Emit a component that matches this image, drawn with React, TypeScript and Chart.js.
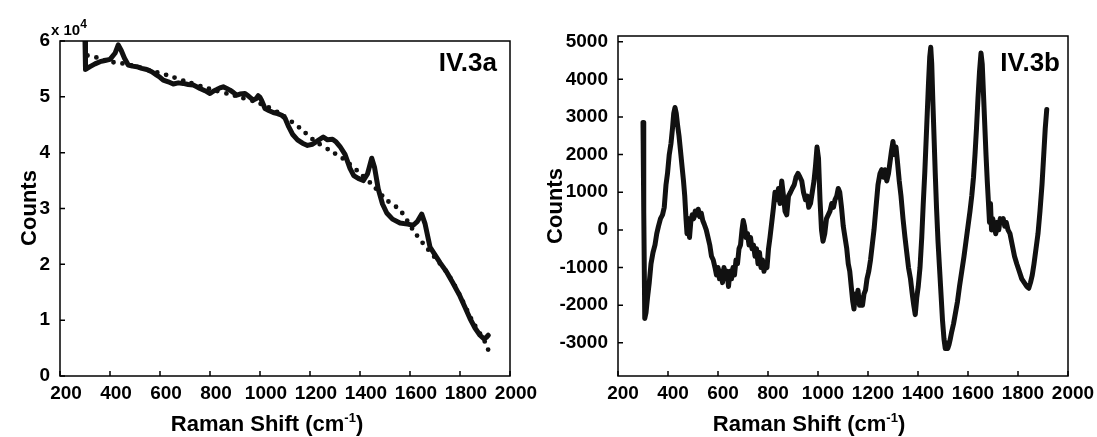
import React, { useEffect, useRef } from "react";
import { Chart, registerables } from "chart.js";
Chart.register(...registerables);

const FONT = "'Liberation Sans', Arial, Helvetica, sans-serif";

// ---------- Panel IV.3a ----------
const ramanA = [300, 302, 320, 340, 360, 380, 400, 420, 433, 445, 458, 473, 490, 507, 527, 547, 567, 587, 600, 613, 633, 653, 673, 693, 713, 733, 747, 760, 780, 800, 813, 827, 840, 853, 867, 880, 893, 907, 920, 940, 955, 973, 985, 993, 1000, 1007, 1020, 1037, 1053, 1070, 1087, 1100, 1113, 1130, 1150, 1170, 1190, 1210, 1230, 1253, 1270, 1290, 1305, 1320, 1340, 1360, 1375, 1393, 1413, 1430, 1447, 1458, 1473, 1490, 1507, 1530, 1560, 1590, 1613, 1630, 1647, 1660, 1680, 1700, 1720, 1747, 1770, 1800, 1820, 1840, 1860, 1880, 1895, 1905, 1913];
const countsA = [60000, 54900, 55400, 55900, 56300, 56500, 56700, 57800, 59300, 58300, 56900, 55700, 55500, 55400, 55100, 54900, 54500, 53900, 53500, 53000, 52700, 52300, 52500, 52400, 52200, 52100, 51800, 51500, 51100, 50600, 51000, 51300, 51600, 51800, 51500, 51200, 50800, 50300, 50500, 50600, 50100, 49400, 49700, 50200, 49900, 49300, 47900, 47500, 47200, 47000, 46700, 46200, 44800, 43300, 42300, 41700, 41300, 41500, 42100, 42800, 42300, 42400, 41900, 41100, 39700, 37200, 35900, 35400, 35000, 36200, 39000, 37400, 33500, 30800, 29200, 28100, 27400, 27200, 27000, 27700, 29000, 27300, 23100, 21700, 20300, 18600, 16800, 14300, 12300, 10300, 8600, 7300, 6700, 6900, 7300];

const fitRamanA = [310, 350, 400, 447, 500, 560, 627, 700, 800, 900, 1000, 1080, 1160, 1213, 1287, 1330, 1393, 1450, 1507, 1560, 1613, 1653, 1700, 1750, 1800, 1850, 1880, 1907, 1916];
const fitCountsA = [57400, 57000, 56300, 56000, 55500, 54700, 53900, 52800, 51400, 50200, 48800, 47000, 44400, 42300, 40200, 39000, 36600, 34200, 31500, 29700, 26100, 23700, 21200, 18400, 14400, 9800, 7600, 5500, 4100];

// ---------- Panel IV.3b ----------
const ramanB = [300, 303, 307, 312, 318, 325, 332, 340, 348, 355, 362, 370, 378, 385, 392, 398, 405, 412, 418, 423, 428, 433, 438, 444, 450, 456, 462, 467, 472, 476, 481, 486, 491, 497, 503, 509, 515, 521, 527, 533, 539, 545, 553, 560, 567, 574, 581, 588, 594, 600, 606, 612, 618, 624, 630, 636, 642, 648, 654, 660, 666, 672, 678, 684, 690, 696, 701, 706, 712, 718, 724, 730, 736, 742, 748, 754, 760, 766, 772, 778, 784, 790, 796, 802, 808, 815, 822, 828, 835, 842, 848, 855, 862, 868, 875, 882, 890, 897, 905, 912, 920, 928, 935, 942, 950, 957, 963, 970, 977, 984, 990, 996, 1002, 1008, 1014, 1020, 1027, 1034, 1041, 1048, 1055, 1062, 1068, 1075, 1081, 1087, 1094, 1101, 1108, 1115, 1121, 1127, 1133, 1139, 1144, 1149, 1154, 1160, 1166, 1172, 1178, 1184, 1190, 1196, 1203, 1210, 1217, 1224, 1232, 1240, 1248, 1255, 1262, 1268, 1275, 1282, 1288, 1294, 1300, 1306, 1312, 1318, 1325, 1332, 1340, 1348, 1355, 1362, 1370, 1377, 1383, 1389, 1395, 1401, 1408, 1415, 1421, 1427, 1432, 1437, 1442, 1447, 1451, 1455, 1459, 1464, 1469, 1474, 1480, 1486, 1492, 1498, 1504, 1509, 1514, 1519, 1524, 1529, 1535, 1542, 1550, 1558, 1566, 1575, 1584, 1592, 1600, 1608, 1615, 1622, 1628, 1634, 1640, 1646, 1652, 1657, 1662, 1667, 1672, 1677, 1682, 1686, 1690, 1694, 1699, 1705, 1711, 1717, 1723, 1729, 1735, 1741, 1747, 1753, 1760, 1768, 1777, 1786, 1795, 1805, 1815, 1825, 1835, 1843, 1850, 1857, 1864, 1872, 1880, 1888, 1896, 1903, 1909, 1915];
const countsB = [2850, 500, -2350, -2200, -1800, -1400, -900, -600, -400, -100, 100, 300, 400, 600, 1200, 1500, 2000, 2300, 2700, 3100, 3250, 3100, 2800, 2500, 2100, 1700, 1300, 900, 300, -100, 300, -200, 200, 400, 300, 500, 400, 550, 350, 450, 250, 150, 0, -200, -400, -700, -800, -1000, -1200, -1000, -1300, -1100, -1400, -1000, -1300, -1100, -1500, -1100, -1300, -1000, -1200, -800, -900, -500, -400, 0, 250, 100, -200, -100, -400, -200, -500, -400, -700, -500, -900, -600, -1000, -800, -1100, -900, -1000, -500, -200, 200, 600, 1000, 800, 1100, 700, 1300, 900, 500, 400, 900, 1000, 1100, 1200, 1400, 1500, 1400, 1300, 1000, 800, 900, 600, 700, 1000, 1300, 1700, 2200, 1900, 800, 0, -300, -100, 300, 400, 500, 700, 600, 800, 900, 1100, 1000, 600, 100, -200, -500, -900, -1100, -1500, -1900, -2100, -1700, -1900, -1600, -2000, -1800, -2000, -1700, -1600, -1300, -1100, -800, -400, 0, 600, 1200, 1500, 1600, 1400, 1600, 1300, 1500, 1800, 2100, 2350, 2000, 2200, 1800, 1300, 900, 300, -200, -600, -1000, -1300, -1700, -2000, -2250, -1800, -1500, -1000, -200, 700, 1500, 2300, 3100, 3900, 4600, 4850, 4400, 3500, 2500, 1500, 600, -300, -1000, -1700, -2400, -2900, -3150, -3000, -3150, -3050, -2900, -2700, -2500, -2200, -1900, -1500, -1100, -700, -300, 100, 500, 900, 1400, 2000, 2700, 3500, 4200, 4700, 4400, 3600, 2800, 2000, 1300, 700, 200, 700, 0, 300, 100, -100, 200, 0, 300, 200, 300, 100, 200, 0, -100, -400, -700, -900, -1100, -1300, -1400, -1500, -1550, -1400, -1200, -900, -500, -100, 500, 1200, 2000, 2700, 3200];

// ---------- Axes ----------
const xTicks = [200, 400, 600, 800, 1000, 1200, 1400, 1600, 1800, 2000];
const yTicksA = [0, 1, 2, 3, 4, 5, 6]; // x 10^4
const yTicksB = [-3000, -2000, -1000, 0, 1000, 2000, 3000, 4000, 5000];

type Decor = {
  countsX: number;
  countsY: number;
  titleX: number;
  titleY: number;
  label: string;
  labelRight: number;
  labelY: number;
  exp?: boolean;
};

function drawRich(ctx: CanvasRenderingContext2D, parts: { t: string; s: number; dy: number }[], cx: number, y: number) {
  let total = 0;
  for (const p of parts) {
    ctx.font = `bold ${p.s}px ${FONT}`;
    total += ctx.measureText(p.t).width;
  }
  let x = cx - total / 2;
  ctx.textAlign = "left";
  ctx.textBaseline = "alphabetic";
  for (const p of parts) {
    ctx.font = `bold ${p.s}px ${FONT}`;
    ctx.fillText(p.t, x, y + p.dy);
    x += ctx.measureText(p.t).width;
  }
}

function makeDecor(d: Decor) {
  return {
    id: "decor",
    afterDraw(chart: any) {
      const { ctx, chartArea: a, scales } = chart;
      ctx.save();
      ctx.strokeStyle = "#000";
      ctx.lineWidth = 1.5;
      ctx.strokeRect(a.left, a.top, a.right - a.left, a.bottom - a.top);
      ctx.beginPath();
      scales.x.ticks.forEach((t: any) => {
        const px = scales.x.getPixelForValue(t.value);
        ctx.moveTo(px, a.bottom);
        ctx.lineTo(px, a.bottom - 5);
      });
      scales.y.ticks.forEach((t: any) => {
        const py = scales.y.getPixelForValue(t.value);
        ctx.moveTo(a.left, py);
        ctx.lineTo(a.left + 5, py);
      });
      ctx.stroke();

      ctx.fillStyle = "#000";
      ctx.save();
      ctx.translate(d.countsX, d.countsY);
      ctx.rotate(-Math.PI / 2);
      ctx.font = `bold 22px ${FONT}`;
      ctx.textAlign = "center";
      ctx.textBaseline = "alphabetic";
      ctx.fillText("Counts", 0, 0);
      ctx.restore();

      drawRich(
        ctx,
        [
          { t: "Raman Shift (cm", s: 22, dy: 0 },
          { t: "-1", s: 13, dy: -9 },
          { t: ")", s: 22, dy: 0 },
        ],
        d.titleX,
        d.titleY
      );

      ctx.font = `bold 26px ${FONT}`;
      ctx.textAlign = "right";
      ctx.textBaseline = "alphabetic";
      ctx.fillText(d.label, d.labelRight, d.labelY);

      if (d.exp) {
        ctx.textAlign = "left";
        ctx.font = `bold 15px ${FONT}`;
        ctx.fillText("x 10", 51, 35);
        const w = ctx.measureText("x 10").width;
        ctx.font = `bold 12px ${FONT}`;
        ctx.fillText("4", 51 + w, 28);
      }
      ctx.restore();
    },
  };
}

function buildConfig(
  xs: number[],
  ys: number[],
  fitX: number[] | null,
  fitY: number[] | null,
  yMin: number,
  yMax: number,
  yTickValues: number[],
  yLabel: (v: number) => string,
  axisWidth: number,
  top: number,
  right: number,
  labelOffset: number,
  decor: Decor
): any {
  const datasets: any[] = [
    {
      data: xs.map((x, i) => ({ x, y: ys[i] })),
      borderColor: "#111",
      borderWidth: 5,
      pointRadius: 0,
      tension: 0,
      borderJoinStyle: "round",
      borderCapStyle: "round",
      fill: false,
    },
  ];
  if (fitX && fitY) {
    datasets.push({
      data: fitX.map((x, i) => ({ x, y: fitY[i] })),
      borderColor: "#111",
      borderWidth: 4.8,
      borderDash: [0, 9],
      borderCapStyle: "round",
      pointRadius: 0,
      tension: 0.3,
      fill: false,
    });
  }
  const tickFont = { family: FONT, size: 19, weight: "bold" };
  return {
    type: "line",
    data: { datasets },
    options: {
      responsive: false,
      maintainAspectRatio: false,
      animation: false,
      events: [],
      layout: { padding: { top, right, left: 0, bottom: 0 } },
      plugins: { legend: { display: false }, tooltip: { enabled: false }, title: { display: false } },
      scales: {
        x: {
          type: "linear",
          min: 200,
          max: 2000,
          afterBuildTicks: (s: any) => {
            s.ticks = xTicks.map((value) => ({ value }));
          },
          afterFit: (s: any) => {
            s.height = 61;
          },
          grid: { display: false, drawTicks: false },
          border: { display: false },
          ticks: {
            color: "#000",
            font: tickFont,
            padding: 6,
            labelOffset,
            maxRotation: 0,
            autoSkip: false,
            callback: (v: number) => String(v),
          },
        },
        y: {
          type: "linear",
          min: yMin,
          max: yMax,
          afterBuildTicks: (s: any) => {
            s.ticks = yTickValues.map((value) => ({ value }));
          },
          afterFit: (s: any) => {
            s.width = axisWidth;
          },
          grid: { display: false, drawTicks: false },
          border: { display: false },
          ticks: {
            color: "#000",
            font: tickFont,
            padding: 10,
            autoSkip: false,
            callback: (v: number) => yLabel(v),
          },
        },
      },
    },
    plugins: [makeDecor(decor)],
  };
}

function ChartCanvas({ config, width, height, left }: { config: () => any; width: number; height: number; left: number }) {
  const ref = useRef<HTMLCanvasElement | null>(null);
  useEffect(() => {
    if (!ref.current) return;
    const chart = new Chart(ref.current, config());
    return () => chart.destroy();
  }, []);
  return (
    <canvas
      ref={ref}
      width={width}
      height={height}
      style={{ position: "absolute", left, top: 0, width, height }}
    />
  );
}

export default function App() {
  useEffect(() => {
    document.body.style.margin = "0";
    document.body.style.background = "#fff";
  }, []);
  return (
    <div style={{ position: "fixed", left: 0, top: 0, width: 1097, height: 437, background: "#fff" }}>
      <ChartCanvas
        left={0}
        width={545}
        height={437}
        config={() =>
          buildConfig(
            ramanA,
            countsA,
            fitRamanA,
            fitCountsA,
            0,
            60000,
            yTicksA.map((v) => v * 10000),
            (v) => String(v / 10000),
            60,
            41,
            35,
            6,
            { countsX: 36, countsY: 208, titleX: 267, titleY: 431, label: "IV.3a", labelRight: 497, labelY: 71, exp: true }
          )
        }
      />
      <ChartCanvas
        left={545}
        width={552}
        height={437}
        config={() =>
          buildConfig(
            ramanB,
            countsB,
            null,
            null,
            -3880,
            5150,
            yTicksB,
            (v) => String(v),
            73,
            36,
            29,
            5,
            { countsX: 17, countsY: 206, titleX: 264, titleY: 431, label: "IV.3b", labelRight: 515, labelY: 71 }
          )
        }
      />
    </div>
  );
}
